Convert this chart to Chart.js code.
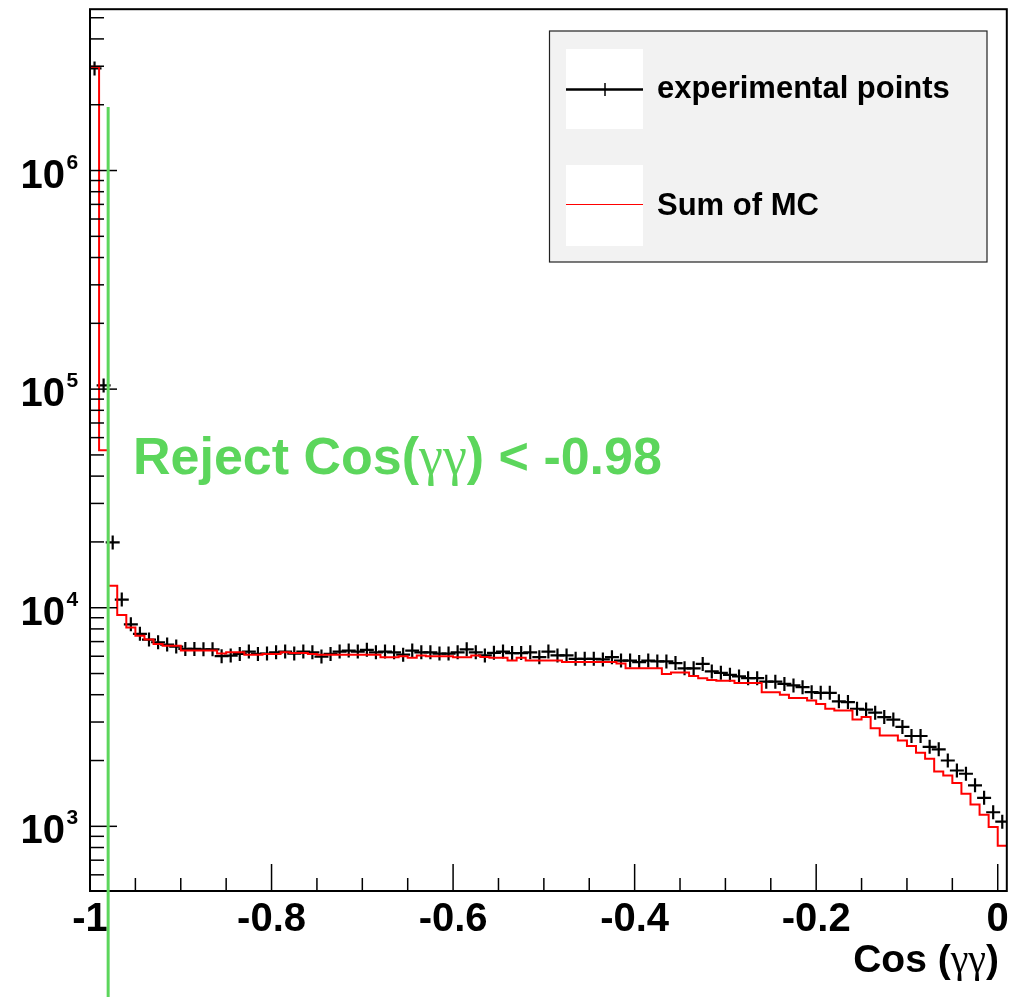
<!DOCTYPE html>
<html>
<head>
<meta charset="utf-8">
<script src="https://cdn.jsdelivr.net/npm/chart.js@4.4.0/dist/chart.umd.min.js"></script>
<style>
  html, body { margin: 0; padding: 0; background: #fff; }
  #wrap { width: 1016px; height: 997px; position: relative; }
</style>
</head>
<body>
<div id="wrap"><canvas id="cosChart"></canvas></div>
<script>
/* =========================
   DATA  (101 bins of 0.01, from -1 to 0.01)
========================= */

const binLow = -1;
const binWidth = 0.01;

const expPoints = [
  2.93e6, 1.04e5, 1.99e4, 1.09e4, 8400, 7600, 7150, 6950, 6780, 6640,
  6480, 6480, 6450, 6450, 6000, 6040, 6150, 6300, 6150, 6170,
  6250, 6300, 6170, 6300, 6250, 5980, 6150, 6300, 6370, 6300,
  6420, 6250, 6300, 6250, 6100, 6370, 6250, 6250, 6170, 6170,
  6250, 6450, 6250, 6050, 6220, 6300, 6200, 6200, 6250, 5940,
  6300, 6050, 6050, 5840, 5840, 5840, 5800, 5940, 5730, 5730,
  5640, 5730, 5680, 5680, 5580, 5280, 5280, 5530, 5110, 5040,
  4930, 4850, 4760, 4760, 4590, 4590, 4480, 4410, 4330, 4110,
  4080, 4080, 3730, 3700, 3450, 3420, 3310, 3160, 3080, 2850,
  2590, 2590, 2310, 2250, 2000, 1800, 1740, 1540, 1350, 1160,
  1050
];

const sumMC = [
  2.98e6, 5.25e4, 1.26e4, 9270, 8130, 7450, 7150, 6820, 6700, 6700,
  6370, 6370, 6370, 6370, 6170, 6250, 6250, 6100, 6100, 6150,
  6150, 6250, 6200, 6200, 6150, 6100, 6100, 6100, 6100, 6100,
  6100, 6100, 5940, 5940, 6000, 5900, 6050, 6000, 6000, 6000,
  5940, 5940, 6050, 5950, 5900, 5900, 5730, 5900, 5730, 5730,
  5730, 5730, 5640, 5640, 5640, 5640, 5640, 5640, 5550, 5280,
  5280, 5280, 5280, 4970, 5060, 5060, 4870, 4760, 4670, 4640,
  4640, 4530, 4530, 4530, 4110, 4110, 4000, 3860, 3860, 3760,
  3630, 3450, 3390, 3390, 3080, 3160, 2810, 2600, 2600, 2470,
  2330, 2170, 2040, 1780, 1710, 1580, 1410, 1260, 1130, 993,
  815
];

const xMajorTicks = [-1, -0.8, -0.6, -0.4, -0.2, 0];
const xTickLabels = ["-1", "-0.8", "-0.6", "-0.4", "-0.2", "0"];
const yDecades = [3, 4, 5, 6];
const cutValue = -0.98;
const legendLabels = ["experimental points", "Sum of MC"];

/* =========================
   HELPERS
========================= */

const SANS = "'Liberation Sans', Arial, Helvetica, sans-serif";
const SERIF = "'Liberation Serif', 'Times New Roman', serif";
const GREEN = "#5cd65c";

// draws text made of several font runs, left to right
function drawRuns(ctx, runs, x, y, align) {
  let total = 0;
  runs.forEach(r => { ctx.font = r.font; total += ctx.measureText(r.text).width; });
  let cx = align === "right" ? x - total : x;
  ctx.textAlign = "left";
  runs.forEach(r => {
    ctx.font = r.font;
    ctx.fillText(r.text, cx, y);
    cx += ctx.measureText(r.text).width;
  });
}

/* =========================
   FRAME, AXES, CUT AND LEGEND
========================= */

const rootFrame = {
  id: "rootFrame",
  afterDatasetsDraw(chart) {
    const { ctx, chartArea: a, scales } = chart;
    const xs = scales.x, ys = scales.y;
    ctx.save();

    // frame
    ctx.strokeStyle = "#000";
    ctx.lineWidth = 2;
    ctx.strokeRect(a.left, a.top, a.right - a.left, a.bottom - a.top);

    // x ticks every 0.05, labelled every 0.2
    ctx.lineWidth = 1.5;
    for (let k = 0; k <= 20; k++) {
      const v = -1 + k * 0.05;
      const px = xs.getPixelForValue(v);
      const len = k % 4 === 0 ? 27 : 13;
      ctx.beginPath();
      ctx.moveTo(px, a.bottom);
      ctx.lineTo(px, a.bottom - len);
      ctx.stroke();
    }
    ctx.fillStyle = "#000";
    ctx.font = "bold 40px " + SANS;
    ctx.textAlign = "center";
    ctx.textBaseline = "alphabetic";
    xMajorTicks.forEach((v, i) => {
      ctx.fillText(xTickLabels[i], xs.getPixelForValue(v), 931);
    });

    // y ticks: decades plus 2..9 sub-ticks
    for (let d = 2; d <= 6; d++) {
      for (let m = 1; m <= 9; m++) {
        const v = m * Math.pow(10, d);
        if (v < ys.min || v > ys.max) continue;
        const py = ys.getPixelForValue(v);
        const len = m === 1 ? 27 : 14;
        ctx.beginPath();
        ctx.moveTo(a.left, py);
        ctx.lineTo(a.left + len, py);
        ctx.stroke();
      }
    }
    yDecades.forEach(d => {
      const py = ys.getPixelForValue(Math.pow(10, d));
      ctx.font = "bold 40px " + SANS;
      ctx.textAlign = "right";
      ctx.fillText("10", 65, py + 17);
      ctx.font = "bold 21px " + SANS;
      ctx.textAlign = "left";
      ctx.fillText(String(d), 66.5, py - 2);
    });

    // axis title
    drawRuns(ctx, [
      { text: "Cos (", font: "bold 39px " + SANS },
      { text: "\u03b3\u03b3", font: "40px " + SERIF },
      { text: ")", font: "bold 39px " + SANS }
    ], 999, 972, "right");

    // cut line and its label
    const cx = xs.getPixelForValue(cutValue);
    ctx.strokeStyle = GREEN;
    ctx.lineWidth = 3;
    ctx.beginPath();
    ctx.moveTo(cx, ys.getPixelForValue(1.95e6));
    ctx.lineTo(cx, chart.height);
    ctx.stroke();

    ctx.fillStyle = GREEN;
    drawRuns(ctx, [
      { text: "Reject Cos(", font: "bold 52px " + SANS },
      { text: "\u03b3\u03b3", font: "54px " + SERIF },
      { text: ") < " + cutValue.toFixed(2), font: "bold 52px " + SANS }
    ], 133, 474, "left");

    // legend
    ctx.fillStyle = "#f2f2f2";
    ctx.fillRect(549.5, 31, 437.5, 231);
    ctx.strokeStyle = "#222";
    ctx.lineWidth = 1.2;
    ctx.strokeRect(549.5, 31, 437.5, 231);
    ctx.fillStyle = "#fff";
    ctx.fillRect(566, 49, 77, 80);
    ctx.fillRect(566, 165, 77, 81);

    ctx.strokeStyle = "#000";
    ctx.lineWidth = 2.5;
    ctx.beginPath();
    ctx.moveTo(566, 89.5);
    ctx.lineTo(643, 89.5);
    ctx.stroke();
    ctx.lineWidth = 1.5;
    ctx.beginPath();
    ctx.moveTo(605, 83);
    ctx.lineTo(605, 96);
    ctx.stroke();

    ctx.strokeStyle = "#ff0000";
    ctx.lineWidth = 1;
    ctx.beginPath();
    ctx.moveTo(566, 204.5);
    ctx.lineTo(643, 204.5);
    ctx.stroke();

    ctx.fillStyle = "#000";
    ctx.font = "bold 31px " + SANS;
    ctx.textAlign = "left";
    ctx.fillText(legendLabels[0], 657, 97.5);
    ctx.fillText(legendLabels[1], 657, 215);

    ctx.restore();
  }
};

/* =========================
   CHART
========================= */

// step outline: one point per bin low edge, plus the last high edge
const mcSteps = sumMC.map((v, i) => ({ x: binLow + i * binWidth, y: v }));
mcSteps.push({ x: binLow + sumMC.length * binWidth, y: sumMC[sumMC.length - 1] });

const expData = expPoints.map((v, i) => ({ x: binLow + (i + 0.5) * binWidth, y: v }));

new Chart(document.getElementById("cosChart"), {
  type: "scatter",
  data: {
    datasets: [
      {
        label: legendLabels[1],
        type: "line",
        data: mcSteps,
        stepped: "before",
        borderColor: "#ff0000",
        borderWidth: 2,
        pointRadius: 0,
        fill: false
      },
      {
        label: legendLabels[0],
        data: expData,
        pointStyle: "cross",
        pointRadius: 7,
        borderColor: "#000",
        backgroundColor: "#000",
        borderWidth: 2.2,
        showLine: false
      }
    ]
  },
  options: {
    responsive: true,
    maintainAspectRatio: false,
    animation: false,
    layout: { padding: { left: 90, top: 9, right: 7, bottom: 106 } },
    scales: {
      x: { type: "linear", min: -1, max: 0.01, display: false },
      y: { type: "logarithmic", min: 506, max: 5.47e6, display: false }
    },
    plugins: {
      legend: { display: false },
      tooltip: { enabled: false }
    },
    events: []
  },
  plugins: [rootFrame]
});
</script>
</body>
</html>
